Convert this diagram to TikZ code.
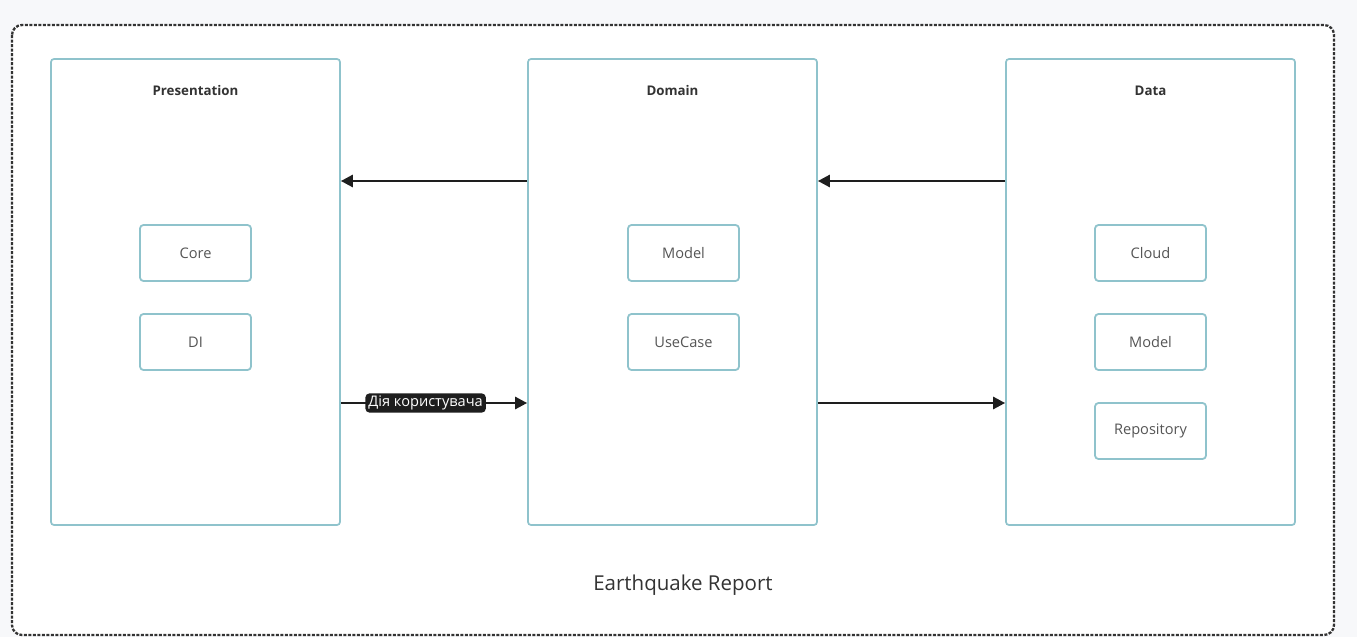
\documentclass[tikz,border=0pt]{standalone}
\usepackage{fontspec}
\setmainfont{Open Sans}
\usetikzlibrary{arrows.meta}
\definecolor{canvas}{HTML}{F7F8FA}
\definecolor{layerline}{HTML}{8FC3CC}
\definecolor{inkgray}{HTML}{333333}
\definecolor{softgray}{HTML}{555555}
\definecolor{arrowink}{HTML}{1E1E1E}
\tikzset{
  layer/.style={draw=layerline, line width=1.7pt, rounded corners=3pt, fill=white,
    minimum width=289pt, minimum height=466pt, inner sep=0pt},
  layertitle/.style={font=\fontsize{13.3}{15}\selectfont\bfseries, text=inkgray},
  module/.style={draw=layerline, line width=1.8pt, rounded corners=3.5pt, fill=white,
    minimum width=111pt, minimum height=56pt, inner sep=0pt,
    font=\fontsize{14.6}{17}\selectfont, text=softgray},
  flow/.style={draw=arrowink, line width=2.6pt, -{Triangle[length=12pt,width=12pt]}},
  flowtag/.style={fill=arrowink, text=white, rounded corners=4pt, inner xsep=3pt,
    inner ysep=2.5pt, font=\fontsize{14.6}{17}\selectfont},
  frame/.style={draw=inkgray, line width=2.3pt, dash pattern=on 3pt off 1.5pt,
    rounded corners=10pt, fill=white}
}
\begin{document}
\begin{tikzpicture}[x=1pt,y=-1pt]
  % page and outer frame
  \fill[canvas] (0,0) rectangle (1357,637);
  \useasboundingbox (0,0) rectangle (1357,637);
  \draw[frame] (12,25) rectangle (1334,635);

  % layers
  \node[layer] (pres) at (195.5,292) {};
  \node[layer] (dom)  at (672.5,292) {};
  \node[layer] (data) at (1150.5,292) {};

  \node[layertitle] (presT) at (195.5,91) {Presentation};
  \node[layertitle] (domT)  at (672.5,91) {Domain};
  \node[layertitle] (dataT) at (1150.5,91) {Data};

  % modules
  \node[module] (core)  at (195.5,253) {Core};
  \node[module] (di)    at (195.5,342) {DI};
  \node[module] (dmod)  at (683.5,253) {Model};
  \node[module] (ucase) at (683.5,342) {UseCase};
  \node[module] (cloud) at (1150.5,253) {Cloud};
  \node[module] (rmod)  at (1150.5,342) {Model};
  \node[module] (repo)  at (1150.5,431) {Repository};

  % dependencies between layers
  \draw[flow] ([yshift=111pt]dom.west) -- ([yshift=111pt]pres.east);
  \draw[flow] ([yshift=111pt]data.west) -- ([yshift=111pt]dom.east);
  \draw[flow] ([yshift=-111pt]pres.east) -- node[flowtag, pos=0.455] (act) {Дія користувача} ([yshift=-111pt]dom.west);
  \draw[flow] ([yshift=-111pt]dom.east) -- ([yshift=-111pt]data.west);

  % caption
  \node[font=\fontsize{20.5}{24}\selectfont, text=inkgray] (cap) at (683,585) {Earthquake Report};
\end{tikzpicture}
\end{document}
